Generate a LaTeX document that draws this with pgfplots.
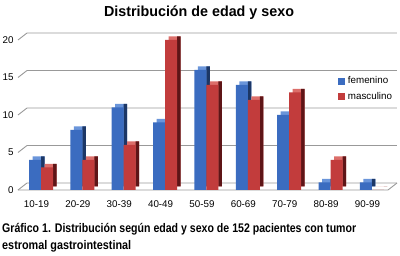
\documentclass[border=0pt]{standalone}
\usepackage{pgfplots}
\pgfplotsset{compat=1.18}
\usepackage{fontspec}
\setmainfont{Liberation Sans}
\definecolor{fblue}{HTML}{3B6CC0}
\definecolor{fbluetop}{HTML}{6A95DA}
\definecolor{fblueside}{HTML}{1C3766}
\definecolor{mred}{HTML}{C23C3C}
\definecolor{mredtop}{HTML}{DC6E6A}
\definecolor{mredside}{HTML}{5E1517}
\definecolor{gridgray}{HTML}{999999}
\begin{document}
\begin{tikzpicture}[x=1pt,y=1pt]
\useasboundingbox (0,0) rectangle (400,256);
\node[anchor=base] at (199,239) {\resizebox{190pt}{\height}{\fontsize{14.5}{16}\selectfont\bfseries Distribución de edad y sexo}};
\node[anchor=base west, inner sep=0pt] at (2,23) {\resizebox{354pt}{\height}{\fontsize{12.5}{14}\selectfont\bfseries Gráfico 1. Distribución según edad y sexo de 152 pacientes con tumor}};
\node[anchor=base west, inner sep=0pt] at (2,6) {\resizebox{129pt}{\height}{\fontsize{12.5}{14}\selectfont\bfseries estromal gastrointestinal}};
\begin{axis}[
  at={(18pt,66pt)}, anchor=south west, scale only axis,
  width=370pt, height=150pt,
  xmin=-0.556, xmax=8.387, ymin=0, ymax=20,
  clip=false,
  axis line style={draw=none},
  xtick={0,...,8},
  xticklabels={10-19,20-29,30-39,40-49,50-59,60-69,70-79,80-89,90-99},
  ytick={0,5,10,15,20},
  major tick length=0pt,
  tick label style={font=\fontsize{9.8}{11}\selectfont},
  /pgf/number format/assume math mode=true,
  xticklabel style={xshift=-4.5pt, yshift=-7pt},
  yticklabel style={xshift=-1pt},
  ybar, bar width=12pt,
  legend style={at={(rel axis cs:0.855,0.785)}, anchor=north west, draw=none, fill=none,
    font=\fontsize{9.8}{11}\selectfont, row sep=3pt,
    /tikz/every odd column/.append style={column sep=2pt}},
  legend cell align=left,
]
\pgfplotsinvokeforeach{0,5,10,15,20}{
  \draw[gridgray, line width=0.9pt] (axis cs:-0.556,#1) -- ([xshift=9pt,yshift=7pt]axis cs:-0.556,#1) -- ([xshift=9pt,yshift=7pt]axis cs:8.387,#1);
}
\draw[gridgray, line width=0.9pt] (axis cs:-0.556,0) -- (axis cs:8.387,0) -- ++(9pt,7pt);
% femenino
\addplot[forget plot, fill=fbluetop, draw=none, bar shift=-2.5pt, yshift=3.5pt] coordinates {(0,4) (1,8) (2,11) (3,9) (4,16) (5,14) (6,10) (7,1) (8,1)};
\addplot[forget plot, fill=fblueside, draw=none, bar width=3.5pt, bar shift=1.75pt, yshift=3.5pt] coordinates {(0,4) (1,8) (2,11) (3,9) (4,16) (5,14) (6,10) (7,1) (8,1)};
\addplot[forget plot, fill=fblue, draw=none, bar shift=-6pt] coordinates {(0,4) (1,8) (2,11) (3,9) (4,16) (5,14) (6,10) (7,1) (8,1)};
% masculino
\addplot[forget plot, fill=mredtop, draw=none, bar shift=9.5pt, yshift=3.5pt] coordinates {(0,3) (1,4) (2,6) (3,20) (4,14) (5,12) (6,13) (7,4) (8,0)};
\addplot[forget plot, fill=mredside, draw=none, bar width=3.5pt, bar shift=13.75pt, yshift=3.5pt] coordinates {(0,3) (1,4) (2,6) (3,20) (4,14) (5,12) (6,13) (7,4) (8,0)};
\addplot[forget plot, fill=mred, draw=none, bar shift=6pt] coordinates {(0,3) (1,4) (2,6) (3,20) (4,14) (5,12) (6,13) (7,4) (8,0)};
\addlegendimage{legend image code/.code={\fill[fblue] (0pt,-3pt) rectangle (6pt,3pt);}}
\addlegendentry{femenino}
\addlegendimage{legend image code/.code={\fill[mred] (0pt,-3pt) rectangle (6pt,3pt);}}
\addlegendentry{masculino}
\end{axis}
\end{tikzpicture}
\end{document}
